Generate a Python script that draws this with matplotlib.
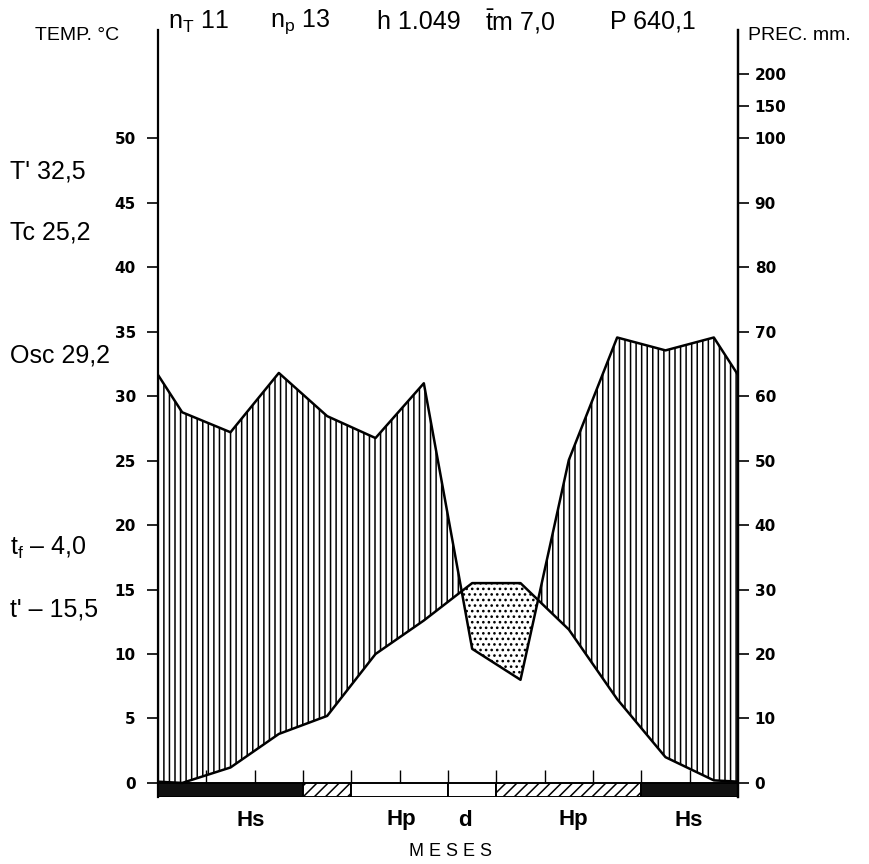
import matplotlib
matplotlib.use("Agg")
import matplotlib.pyplot as plt
import numpy as np

plt.rcParams['font.family'] = ['Liberation Sans', 'DejaVu Sans']
plt.rcParams['mathtext.fontset'] = 'custom'
plt.rcParams['mathtext.rm'] = 'Liberation Sans'
plt.rcParams['mathtext.it'] = 'Liberation Sans'
plt.rcParams['hatch.linewidth'] = 1.1

# monthly means, Jan..Dec
temp_c = [0.0, 1.2, 3.8, 5.2, 10.0, 12.6, 15.5, 15.5, 11.9, 6.5, 2.0, 0.2]
prec_mm = [57.5, 54.4, 63.6, 56.9, 53.5, 62.0, 20.8, 16.0, 50.1, 69.1, 67.1, 69.1]

# frost periods along the bottom strip (month boundaries)
frost_edges = [0, 3, 4, 6, 7, 10, 12]
frost_kind = ['Hs', 'Hp', 'free', 'free', 'Hp', 'Hs']
frost_labels = ['Hs', 'Hp', 'd', 'Hp', 'Hs']
frost_label_x = [1.92, 5.03, 6.35, 8.59, 10.97]

temp_ticks = [0, 5, 10, 15, 20, 25, 30, 35, 40, 45, 50]
prec_ticks = [0, 10, 20, 30, 40, 50, 60, 70, 80, 90, 100, 150, 200]

side_notes = ["T' 32,5", "Tc 25,2", "Osc 29,2", r"t$_{\mathrm{f}}$ – 4,0", "t' – 15,5"]
side_notes_y = [172, 232, 355, 548, 610]
header = [r"n$_{\mathrm{T}}$ 11", r"n$_{\mathrm{p}}$ 13", "h 1.049", r"$\bar{\mathrm{t}}$m 7,0", "P 640,1"]
header_x = [168, 270, 377, 485, 610]


def prec_to_temp(p):
    """Walter-Lieth scale: 10 C = 20 mm up to 100 mm, compressed 1/10 above."""
    p = np.asarray(p, dtype=float)
    return np.where(p <= 100, p / 2.0, 50 + (p - 100) / 20.0)


W, H = 870, 864
fig = plt.figure(figsize=(W / 100, H / 100), dpi=100)
ax = fig.add_axes([158 / W, (H - 797) / H, 580 / W, 767 / H])

# points at mid-month, closed at both ends with the Dec/Jan mean
t = np.array(temp_c)
p = prec_to_temp(prec_mm)
x = np.concatenate([[0], np.arange(12) + 0.5, [12]])
t_full = np.concatenate([[(t[0] + t[-1]) / 2], t, [(t[0] + t[-1]) / 2]])
p_full = np.concatenate([[(p[0] + p[-1]) / 2], p, [(p[0] + p[-1]) / 2]])

# humid period hatched vertically, dry period dotted
ax.fill_between(x, t_full, p_full, where=p_full >= t_full, interpolate=True,
                facecolor='white', edgecolor='black', hatch='|||', linewidth=0)
ax.fill_between(x, t_full, p_full, where=p_full < t_full, interpolate=True,
                facecolor='white', edgecolor='black', hatch='...', linewidth=0)
ax.plot(x, p_full, color='black', lw=1.8, zorder=5)
ax.plot(x, t_full, color='black', lw=1.8, zorder=5)

# month dividers on the zero line
ax.vlines(np.arange(1, 12), 0, 1.0, color='black', lw=1.0)

# frost strip
strip_h = 1.09
styles = {'Hs': dict(color='#111111', hatch=None),
          'Hp': dict(color='white', hatch='///'),
          'free': dict(color='white', hatch=None)}
for a, b, kind in zip(frost_edges[:-1], frost_edges[1:], frost_kind):
    st = styles[kind]
    ax.bar(a, strip_h, width=b - a, bottom=-strip_h, align='edge',
           color=st['color'], hatch=st['hatch'], edgecolor='black', linewidth=1.4)
for lx, lab in zip(frost_label_x, frost_labels):
    fig.text((158 + lx * 580 / 12) / W, 1 - 820 / H, lab, ha='center', va='center',
             fontsize=16, fontweight='bold')

ax.set_xlim(0, 12)
ax.set_ylim(-strip_h, 58.4)
ax.set_xticks([])
ax.spines['top'].set_visible(False)
ax.spines['bottom'].set_visible(False)
for s in ('left', 'right'):
    ax.spines[s].set_linewidth(1.6)

ax.set_yticks(temp_ticks)
ax.set_yticklabels([str(v) for v in temp_ticks], fontsize=11, fontweight='bold',
                   family='DejaVu Sans')
ax.tick_params(axis='y', direction='out', length=8, width=1.2, pad=8)

ax2 = ax.twinx()
ax2.set_ylim(ax.get_ylim())
ax2.set_yticks(prec_to_temp(prec_ticks))
ax2.set_yticklabels([str(v) for v in prec_ticks], fontsize=11, fontweight='bold',
                    family='DejaVu Sans')
ax2.tick_params(axis='y', direction='out', length=8, width=1.2, pad=4)
for s in ('top', 'bottom', 'left'):
    ax2.spines[s].set_visible(False)
ax2.spines['right'].set_linewidth(1.6)

fig.text(35 / W, 1 - 35 / H, "TEMP. °C", fontsize=14, va='center', ha='left')
fig.text(748 / W, 1 - 35 / H, "PREC. mm.", fontsize=14, va='center', ha='left')
for hx, txt in zip(header_x, header):
    fig.text(hx / W, 1 - 22 / H, txt, fontsize=18, va='center', ha='left')
for ny, txt in zip(side_notes_y, side_notes):
    fig.text(10 / W, 1 - ny / H, txt, fontsize=18, va='center', ha='left')
fig.text(451 / W, 1 - 852 / H, "M E S E S", fontsize=13, va='center', ha='center')

fig.savefig("out.png", dpi=100)
